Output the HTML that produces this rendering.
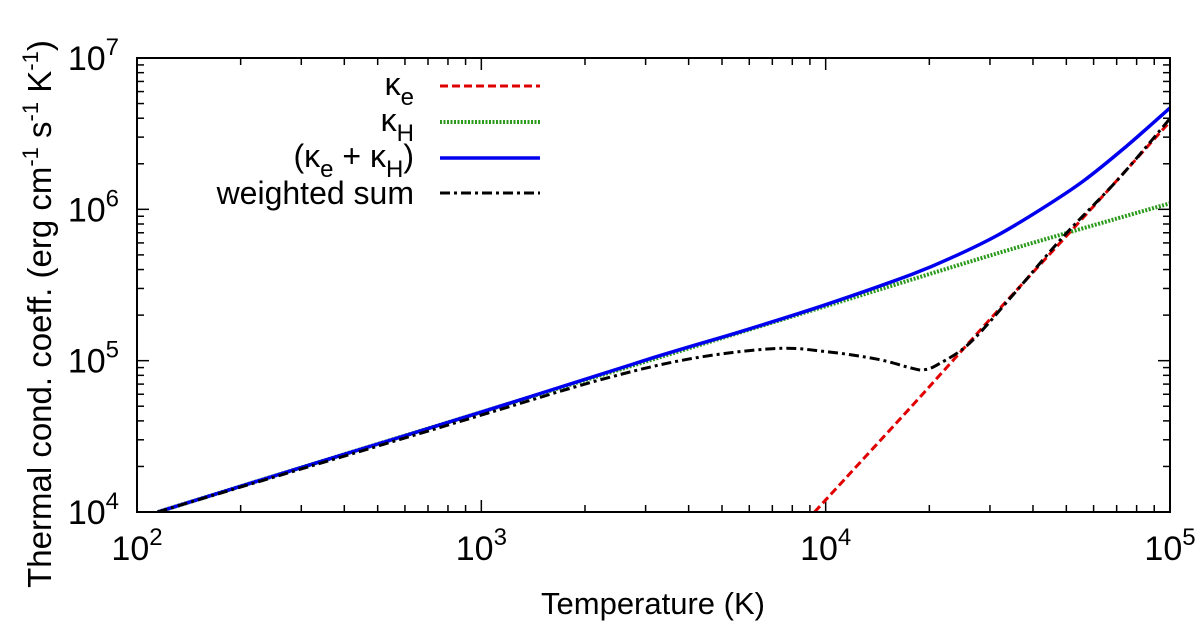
<!DOCTYPE html>
<html><head><meta charset="utf-8"><style>
html,body{margin:0;padding:0;background:#fff;}
svg{display:block;font-family:"Liberation Sans",sans-serif;}
</style></head><body>
<svg id="chart" width="1200" height="627" viewBox="0 0 1200 627">
<g id="ticks"></g>
<g id="series"></g>
<rect x="137" y="58" width="1033" height="454" fill="none" stroke="#000" stroke-width="2"/>
<g id="xlabels" font-size="34" text-anchor="middle"></g>
<g id="ylabels" font-size="34" text-anchor="end"></g>
<text x="653" y="614" font-size="31" text-anchor="middle">Temperature (K)</text>
<text transform="translate(51,314) rotate(-90)" font-size="33" text-anchor="middle">Thermal cond. coeff. (erg cm<tspan font-size="22" dy="-13">-1</tspan><tspan dy="13"> s</tspan><tspan font-size="22" dy="-13">-1</tspan><tspan dy="13"> K</tspan><tspan font-size="22" dy="-13">-1</tspan><tspan dy="13">)</tspan></text>
<g id="legend" font-size="32" text-anchor="end">
 <g><text x="414" y="95">κ<tspan font-size="24" dy="10">e</tspan></text><line x1="440" y1="86" x2="540" y2="86" stroke="#e00000" stroke-width="3" stroke-dasharray="8,4"/></g>
 <g><text x="414" y="131">κ<tspan font-size="24" dy="10">H</tspan></text><line x1="440" y1="122" x2="540" y2="122" stroke="#2a9a1a" stroke-width="4" stroke-dasharray="2,1.5"/></g>
 <g><text x="414" y="167">(κ<tspan font-size="24" dy="10">e</tspan><tspan dy="-10"> + κ</tspan><tspan font-size="24" dy="10">H</tspan><tspan dy="-10">)</tspan></text><line x1="440" y1="158" x2="540" y2="158" stroke="#0000ee" stroke-width="3.5"/></g>
 <g><text x="414" y="204">weighted sum</text><line x1="440" y1="193" x2="540" y2="193" stroke="#000" stroke-width="3" stroke-dasharray="10,4,3,4"/></g>
</g>
</svg>
<script>
const xTickExps=[2,3,4,5];
const yTickExps=[4,5,6,7];
const redLogT=[3.968,4.25,4.5,4.75,5.0];
const redLogK=[4.0,4.70,5.33,5.95,6.58];
const greenLogT=[2.06,2.5,3,3.5,4,4.5,5];
const greenLogK=[4.0,4.31,4.66,5.01,5.36,5.71,6.04];
const blueLogT=[2.06,2.5,3,3.5,3.75,4,4.25,4.375,4.5,4.625,4.75,4.875,5];
const blueLogK=[4.0,4.31,4.66,5.02,5.19,5.37,5.57,5.69,5.83,6.0,6.19,6.42,6.67];
const blackLogT=[2.06,2.5,3,3.34,3.6,3.85,4.0,4.15,4.25,4.287,4.33,4.42,4.55,4.69,4.85,5];
const blackLogK=[4.0,4.30,4.64,4.87,5.01,5.08,5.06,5.01,4.95,4.94,4.98,5.12,5.45,5.82,6.2,6.6];

const X0=137,X1=1170,Y0=512,Y1=58;
const xs=v=>X0+(v-2)/3*(X1-X0);
const ys=v=>Y0-(v-4)/3*(Y0-Y1);
const NS="http://www.w3.org/2000/svg";
function mk(t,a,p){const e=document.createElementNS(NS,t);for(const k in a)e.setAttribute(k,a[k]);p.appendChild(e);return e;}
const tk=document.getElementById('ticks');
for(let d=2;d<5;d++)for(let m=1;m<=10;m++){
  const lv=d+Math.log10(m); if(m===10&&d<4)continue;
  const x=xs(lv), L=(m===1||m===10)?12:7;
  const a=mk('line',{x1:x,x2:x,y1:Y0,y2:Y0-L,stroke:'#000','stroke-width':1.5},tk);
  
  
  const b=mk('line',{x1:x,x2:x,y1:Y1,y2:Y1+L,stroke:'#000','stroke-width':1.5},tk);
  
  
}
for(let d=4;d<7;d++)for(let m=1;m<=10;m++){
  const lv=d+Math.log10(m); if(m===10&&d<6)continue;
  const y=ys(lv), L=(m===1||m===10)?12:7;
  const a=mk('line',{y1:y,y2:y,x1:X0,x2:X0+L,stroke:'#000','stroke-width':1.5},tk);
  
  
  const b=mk('line',{y1:y,y2:y,x1:X1,x2:X1-L,stroke:'#000','stroke-width':1.5},tk);
  
  
}
const xl=document.getElementById('xlabels');
xTickExps.forEach(e=>{const t=mk('text',{x:xs(e),y:560},xl);
 
 
 t.innerHTML='10<tspan font-size="24" dy="-15">'+e+'</tspan>';});
const yl=document.getElementById('ylabels');
yTickExps.forEach(e=>{const t=mk('text',{x:119,y:ys(e)+12},yl);
 
 
 t.innerHTML='10<tspan font-size="24" dy="-15">'+e+'</tspan>';});
const sg=document.getElementById('series');
const clip=mk('clipPath',{id:'pc'},sg);mk('rect',{x:X0,y:Y1,width:X1-X0,height:Y0-Y1},clip);
function line(tx,ty,st,name){
 const P=tx.map((v,i)=>[xs(v),ys(ty[i])]);
 let d='M'+P[0][0].toFixed(1)+','+P[0][1].toFixed(1);
 for(let i=0;i<P.length-1;i++){
  const p0=P[i-1]||P[i],p1=P[i],p2=P[i+1],p3=P[i+2]||P[i+1];
  const c1=[p1[0]+(p2[0]-p0[0])/6,p1[1]+(p2[1]-p0[1])/6];
  const c2=[p2[0]-(p3[0]-p1[0])/6,p2[1]-(p3[1]-p1[1])/6];
  d+='C'+c1.map(n=>n.toFixed(1)).join(',')+' '+c2.map(n=>n.toFixed(1)).join(',')+' '+p2.map(n=>n.toFixed(1)).join(',');
 }
 const p=mk('path',Object.assign({d:d,fill:'none','clip-path':'url(#pc)','stroke-linejoin':'round'},st),sg);
 
 
}
line(greenLogT,greenLogK,{stroke:'#2a9a1a','stroke-width':4,'stroke-dasharray':'2,1.5'},'series-kappa-h');
line(blueLogT,blueLogK,{stroke:'#0000ee','stroke-width':3.5},'series-kappa-sum');
line(redLogT,redLogK,{stroke:'#e00000','stroke-width':3,'stroke-dasharray':'8,4'},'series-kappa-e');
line(blackLogT,blackLogK,{stroke:'#000','stroke-width':3,'stroke-dasharray':'10,4,3,4'},'series-weighted-sum');
</script>
</body></html>
